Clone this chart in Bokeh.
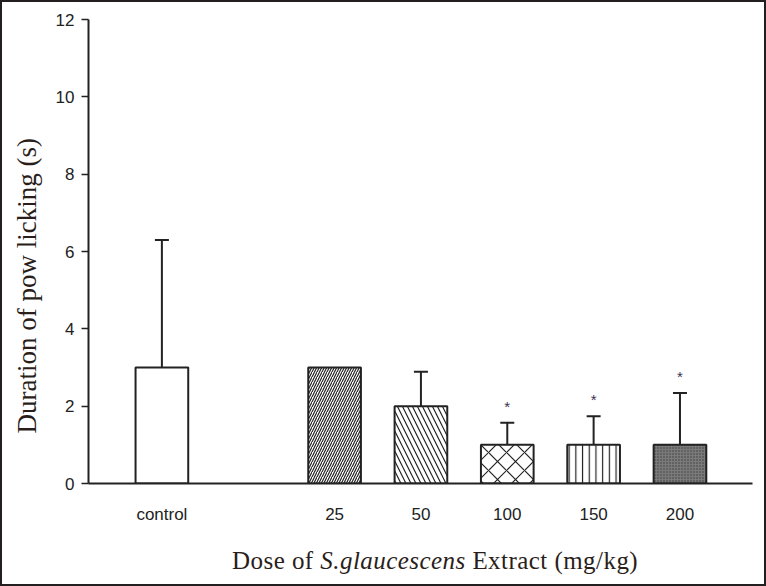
from bokeh.plotting import figure
from bokeh.layouts import column, row
from bokeh.models import ColumnDataSource, Range1d, FixedTicker, Whisker, TeeHead, Title, Div
from bokeh.core.properties import value
from bokeh.embed import file_html
from bokeh.resources import INLINE

# ---------------- data ----------------
# axis slots in order; None marks the empty gap after "control"
slots = ["control", None, "25", "50", "100", "150", "200"]
categories = ["control", "25", "50", "100", "150", "200"]
means = [3.0, 3.0, 2.0, 1.0, 1.0, 1.0]
sd = [3.3, None, 0.89, 0.57, 0.74, 1.34]
significant = [False, False, False, True, True, True]

y_ticks = [0, 2, 4, 6, 8, 10, 12]
y_label = "Duration of pow licking (s)"
x_label_parts = ["Dose of", "S.glaucescens", "Extract (mg/kg)"]

# ---------------- styles ----------------
hatch_patterns = [" ", "/", "\\", "x", "|", "."]
hatch_scales = [1, 5, 10, 18, 6.7, 3]
hatch_colors = ["#222222"] * 5 + ["#3a3a3a"]
fill_colors = ["white", "white", "white", "white", "white", "#7a7a7a"]
INK = "#222222"
LBL = "#2a1e1a"
BORDER = "#231f20"

xs = [slots.index(c) for c in categories]

p = figure(width=762, height=532, output_backend="svg", toolbar_location=None,
           x_range=Range1d(-0.85, 6.84), y_range=Range1d(0, 12),
           min_border_left=85, min_border_right=12, min_border_top=17,
           min_border_bottom=51, margin=0)
p.background_fill_color = "white"
p.border_fill_color = "white"
p.outline_line_color = None
p.xgrid.visible = False
p.ygrid.visible = False

src = ColumnDataSource(dict(x=xs, top=means, hatch=hatch_patterns, hs=hatch_scales,
                            hc=hatch_colors, fc=fill_colors))
p.vbar(x="x", top="top", bottom=0, width=0.61, source=src,
       fill_color="fc", line_color=INK, line_width=2,
       hatch_pattern="hatch", hatch_scale="hs", hatch_color="hc", hatch_weight=1.2)

# error bars (upper only)
wx, wl, wu = [], [], []
for x, m, s in zip(xs, means, sd):
    if s is not None:
        wx.append(x); wl.append(m); wu.append(m + s)
wsrc = ColumnDataSource(dict(x=wx, lower=wl, upper=wu))
p.add_layout(Whisker(source=wsrc, base="x", lower="lower", upper="upper",
                     dimension="height", line_color=INK, line_width=2,
                     upper_head=TeeHead(size=14, line_width=2, line_color=INK),
                     lower_head=None))

# significance stars
sx, sy = [], []
for x, m, s, sig in zip(xs, means, sd, significant):
    if sig:
        sx.append(x); sy.append(m + (s or 0))
p.text(x=sx, y=sy, text=["*"] * len(sx), text_align="center", text_baseline="bottom",
       y_offset=-8, text_font=value("Liberation Sans"), text_font_size="15px",
       text_color="#3a3050")

# axes
xa = p.xaxis[0]
xa.ticker = FixedTicker(ticks=xs)
xa.major_label_overrides = {x: c for x, c in zip(xs, categories)}
xa.major_tick_out = 0
xa.major_tick_in = 0
xa.minor_tick_out = 0
xa.minor_tick_in = 0
xa.axis_line_color = INK
xa.axis_line_width = 2
xa.major_label_standoff = 21
xa.major_label_text_font = "Liberation Sans"
xa.major_label_text_font_size = "17px"
xa.major_label_text_color = INK

ya = p.yaxis[0]
ya.ticker = FixedTicker(ticks=y_ticks)
ya.major_tick_out = 7
ya.major_tick_in = 0
ya.minor_tick_out = 0
ya.minor_tick_in = 0
ya.major_tick_line_width = 1.5
ya.major_tick_line_color = INK
ya.axis_line_color = INK
ya.axis_line_width = 2
ya.major_label_standoff = 7
ya.major_label_text_font = "Liberation Sans"
ya.major_label_text_font_size = "17px"
ya.major_label_text_color = INK

# y axis title, starting a little above the frame bottom as in the reference
p.add_layout(Title(text=y_label, align="left", offset=50, standoff=18,
                   vertical_align="top",
                   text_font="Liberation Serif", text_font_size="27px",
                   text_font_style="normal", text_color=LBL), "left")

# x axis title: upright + italic species name
xdiv = Div(width=762, height=50, margin=0, text=(
    '<div style="padding:9px 0 0 230px; font-family:\'Liberation Serif\'; '
    'font-size:25px; letter-spacing:0.45px; color:%s; white-space:nowrap">'
    '%s <i>%s</i> %s</div>' % (LBL, x_label_parts[0], x_label_parts[1], x_label_parts[2])))

def edge(w, h):
    return Div(width=w, height=h, margin=0, styles={"background-color": BORDER})

content = column(p, xdiv, spacing=0, margin=0)
layout = column(edge(766, 2),
                row(edge(2, 582), content, edge(2, 582), spacing=0, margin=0),
                edge(766, 2), spacing=0, margin=0)

open("out.html", "w").write(file_html(layout, INLINE))
